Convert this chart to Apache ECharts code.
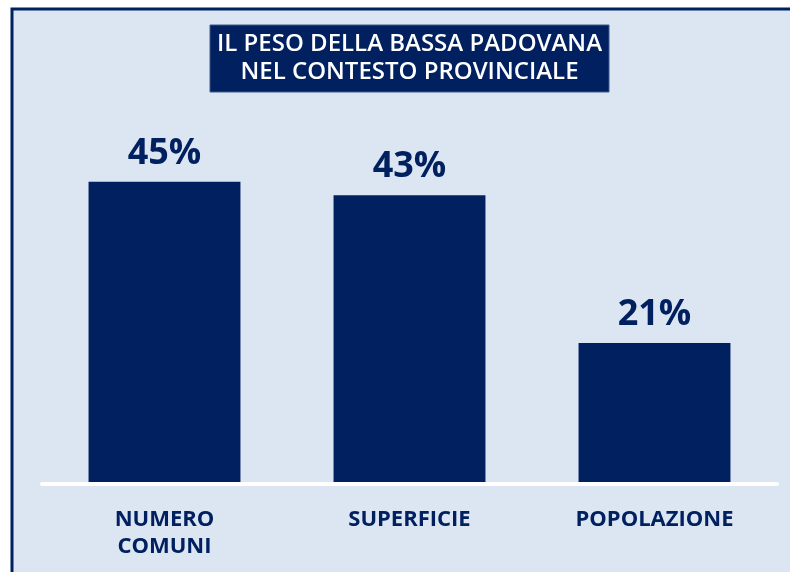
<!DOCTYPE html>
<html>
<head>
<meta charset="utf-8">
<style>
html, body {
  margin: 0;
  padding: 0;
  background: #ffffff;
}
#peso_bar {
  width: 790px;
  height: 572px;
}
</style>
<script src="https://cdn.jsdelivr.net/npm/echarts@6/dist/echarts.min.js"></script>
</head>
<body>
<div id="peso_bar"></div>
<script>
// dati
const categories = ['NUMERO\nCOMUNI', 'SUPERFICIE', 'POPOLAZIONE'];
const values = [45, 43, 21];
const titleLines = ['IL PESO DELLA BASSA PADOVANA', 'NEL CONTESTO PROVINCIALE'];

const navy = '#002060';
const bg = '#dce6f2';
const font = 'Open Sans';

let container = echarts.init(document.getElementById('peso_bar'));

let option = {
  backgroundColor: '#ffffff',
  animation: false,
  graphic: [
    {
      // riquadro di sfondo con bordo blu
      type: 'rect',
      z: -10,
      shape: { x: 12, y: 9, width: 800, height: 600 },
      style: { fill: bg, stroke: navy, lineWidth: 3 }
    },
    {
      // box del titolo
      type: 'rect',
      z: 10,
      shape: { x: 210, y: 25, width: 399, height: 67 },
      style: { fill: navy, stroke: '#40598a', lineWidth: 1 }
    },
    {
      type: 'text',
      z: 11,
      x: 409.5,
      y: 58.5,
      style: {
        text: titleLines.join('\n'),
        fill: '#ffffff',
        font: '600 24px "' + font + '"',
        lineHeight: 28,
        align: 'center',
        verticalAlign: 'middle'
      }
    }
  ],
  grid: {
    left: 42,
    right: 13,
    top: 81,
    bottom: 88
  },
  xAxis: {
    type: 'category',
    data: categories,
    z: 5,
    axisLine: {
      show: true,
      lineStyle: { color: '#ffffff', width: 4 }
    },
    axisTick: { show: false },
    axisLabel: {
      interval: 0,
      margin: 22,
      color: navy,
      fontFamily: font,
      fontWeight: 'bold',
      fontSize: 22,
      lineHeight: 27
    }
  },
  yAxis: {
    type: 'value',
    min: 0,
    max: 60,
    show: false,
    splitLine: { show: false }
  },
  series: [
    {
      type: 'bar',
      data: values,
      barWidth: '62%',
      itemStyle: { color: navy },
      label: {
        show: true,
        position: 'top',
        distance: 10,
        formatter: '{c}%',
        color: navy,
        fontFamily: font,
        fontWeight: 'bold',
        fontSize: 36
      }
    }
  ]
};

container.setOption(option);
</script>
</body>
</html>
